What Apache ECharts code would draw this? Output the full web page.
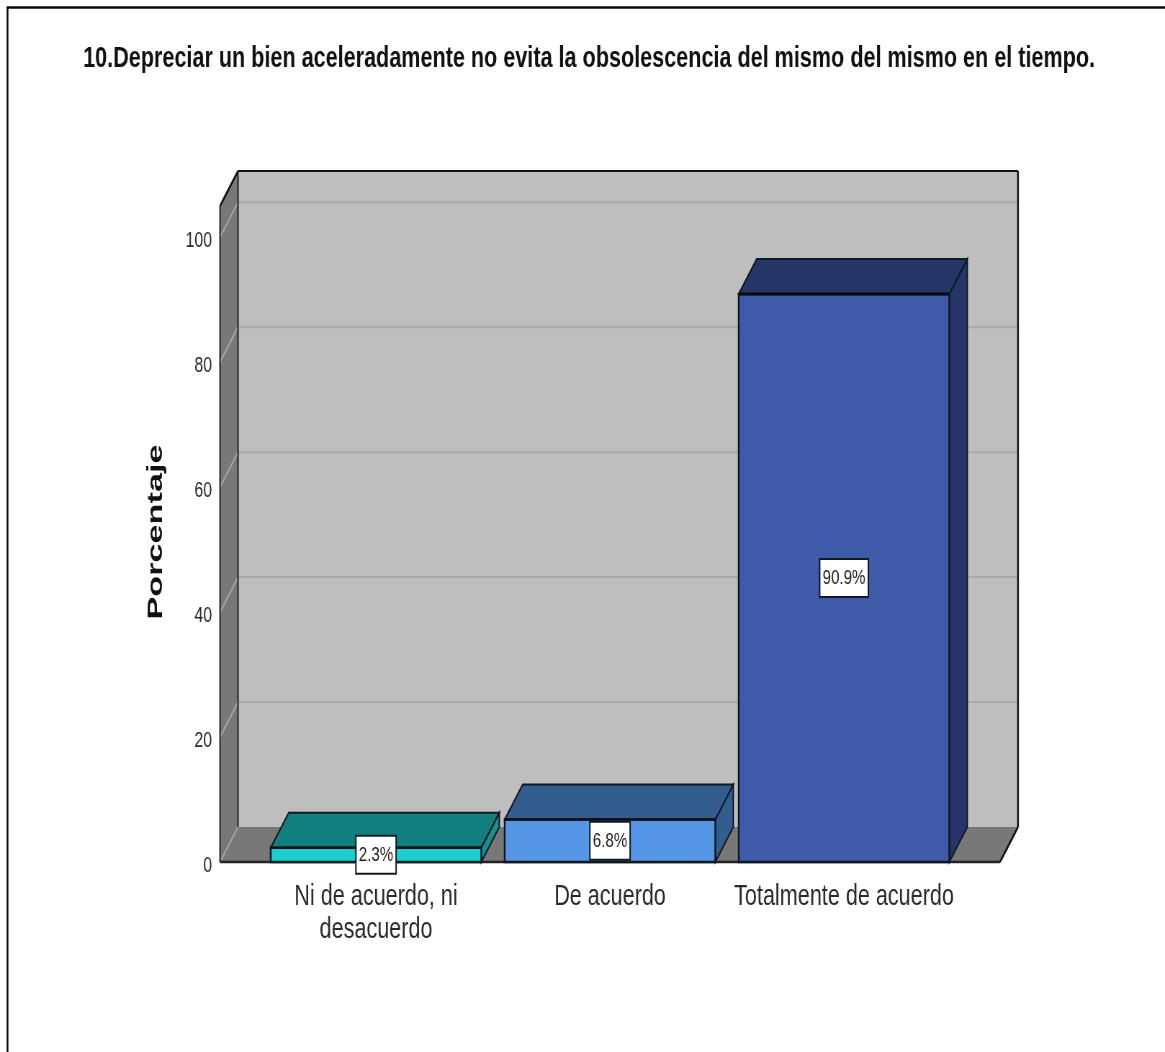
<!DOCTYPE html>
<html>
<head>
<meta charset="utf-8">
<style>
html,body{margin:0;padding:0;background:#fff;overflow:hidden;width:1165px;height:1052px}
/* The plot is laid out wide and squeezed horizontally, which gives the condensed lettering */
#chart{width:1618px;height:1052px;transform:scaleX(0.72);transform-origin:0 0}
</style>
<script src="https://cdn.jsdelivr.net/npm/echarts@6/dist/echarts.min.js"></script>
</head>
<body>
<div id="chart"></div>
<script>
const chartTitle = '10.Depreciar un bien aceleradamente no evita la obsolescencia del mismo del mismo en el tiempo.';
const categories = ['Ni de acuerdo, ni\ndesacuerdo', 'De acuerdo', 'Totalmente de acuerdo'];
const percentages = [2.3, 6.8, 90.9];
const percentLabels = ['2.3%', '6.8%', '90.9%'];
const frontColors = ['#1bcfcf', '#5596e6', '#3e5aa8'];
const topColors = ['#127f7f', '#335c8f', '#263668'];
const sideColors = ['#17908f', '#335c8f', '#263668'];
const gridValues = [20, 40, 60, 80, 100];
const axisMax = 105;

// Horizontal units are wider than screen pixels by this factor
const SQUEEZE = 0.72;
const sx = px => px / SQUEEZE;

// Oblique projection of the 3D box, and how far the walls reach past the bars
const DEPTH_X = sx(18), DEPTH_Y = -35, WALL_PAD = sx(39);
const SANS = '"Liberation Sans", Arial, sans-serif';
const EDGE = '#101820';

const poly = (points, fill, stroke, lineWidth) => ({
  type: 'polygon',
  shape: { points },
  style: { fill, stroke: stroke || null, lineWidth: lineWidth === undefined ? 2 : lineWidth }
});
const seg = (a, b, stroke, lineWidth) => ({
  type: 'line',
  shape: { x1: a[0], y1: a[1], x2: b[0], y2: b[1] },
  style: { stroke, lineWidth }
});

function renderWalls(params, api) {
  const sys = params.coordSys;
  const x0 = sys.x - WALL_PAD, x1 = sys.x + sys.width + WALL_PAD;
  const yBase = api.coord([0, 0])[1], yTop = api.coord([0, axisMax])[1];
  const back = (x, y) => [x + DEPTH_X, y + DEPTH_Y];
  const children = [
    poly([back(x0, yTop), back(x1, yTop), back(x1, yBase), back(x0, yBase)], '#bebebe'),
    poly([[x0, yBase], [x1, yBase], back(x1, yBase), back(x0, yBase)], '#787878'),
    poly([[x0, yTop], back(x0, yTop), back(x0, yBase), [x0, yBase]], '#787878')
  ];
  gridValues.forEach(v => {
    const y = api.coord([0, v])[1];
    children.push(seg(back(x0, y), back(x1, y), '#a9a9a9', 2));
    children.push(seg([x0, y], back(x0, y), '#a6a6a6', 2));
  });
  children.push(seg([x0, yBase], back(x0, yBase), '#a6a6a6', 2));
  // Wall outlines
  children.push(seg(back(x0, yTop), back(x1, yTop), '#111', 2));
  children.push(seg(back(x1, yTop), back(x1, yBase), '#111', 2.5));
  children.push(seg(back(x0, yTop), back(x0, yBase), '#222', 2));
  children.push(seg([x0, yTop], back(x0, yTop), '#111', 2.5));
  children.push(seg([x0, yTop], [x0, yBase], '#222', 2));
  children.push(seg([x0, yBase], [x1, yBase], '#222', 2.5));
  children.push(seg([x1, yBase], back(x1, yBase), '#111', 2.5));
  return { type: 'group', children };
}

function renderBar(params, api) {
  const i = api.value(0), v = api.value(1);
  const width = api.size([1, 0])[0] * 0.9;
  const base = api.coord([i, 0]), head = api.coord([i, v]);
  const l = base[0] - width / 2, r = base[0] + width / 2;
  const yb = base[1], yt = head[1];
  const dx = DEPTH_X, dy = DEPTH_Y;
  return {
    type: 'group',
    children: [
      poly([[r, yb], [r + dx, yb + dy], [r + dx, yt + dy], [r, yt]], sideColors[i], EDGE),
      poly([[l, yt], [r, yt], [r + dx, yt + dy], [l + dx, yt + dy]], topColors[i], EDGE),
      poly([[l, yt], [r, yt], [r, yb], [l, yb]], frontColors[i], EDGE, 2.5),
      seg([l, yt], [r, yt], '#05080f', i === 2 ? 3 : 2),
      {
        type: 'text',
        x: base[0],
        y: (yb + yt) / 2,
        z2: 20,
        style: {
          text: percentLabels[i],
          fontFamily: SANS,
          fontSize: 21,
          fill: '#222',
          align: 'center',
          verticalAlign: 'middle',
          backgroundColor: '#fff',
          borderColor: EDGE,
          borderWidth: 2,
          padding: [8, 3, 7, 3]
        }
      }
    ]
  };
}

const chart = echarts.init(document.getElementById('chart'), null, { renderer: 'canvas', width: 1618, height: 1052 });
chart.setOption({
  animation: false,
  backgroundColor: '#fff',
  title: {
    text: chartTitle,
    left: sx(585.5),
    top: 39,
    textAlign: 'center',
    textStyle: { fontFamily: SANS, fontWeight: 'bold', fontSize: 30, color: '#111' }
  },
  grid: { left: sx(259), width: sx(702), top: 206, height: 656 },
  xAxis: {
    type: 'category',
    data: categories,
    axisLine: { show: false },
    axisTick: { show: false },
    axisLabel: {
      interval: 0,
      margin: 18,
      fontFamily: SANS,
      fontSize: 30,
      lineHeight: 33,
      color: '#2a2a2a'
    }
  },
  yAxis: {
    type: 'value',
    min: 0,
    max: axisMax,
    interval: 20,
    offset: WALL_PAD,
    splitLine: { show: false },
    axisLine: { show: false },
    axisTick: { show: false },
    axisLabel: {
      showMaxLabel: false,
      margin: sx(8),
      verticalAlign: 'top',
      lineHeight: 7,
      fontFamily: SANS,
      fontSize: 22,
      color: '#2a2a2a'
    }
  },
  graphic: [
    {
      type: 'polyline',
      shape: { points: [[sx(7.5), 1052], [sx(7.5), 7.5], [sx(1165), 7.5]] },
      style: { stroke: '#0a0a0a', fill: null, lineWidth: 2.5 }
    },
    {
      type: 'text',
      x: sx(156.5),
      y: 532,
      rotation: Math.PI / 2,
      scaleX: 1.18,
      style: {
        text: 'Porcentaje',
        fontFamily: SANS,
        fontWeight: 'bold',
        fontSize: 29,
        fill: '#111',
        align: 'center',
        verticalAlign: 'middle'
      }
    }
  ],
  series: [
    { type: 'custom', name: 'walls', silent: true, z: 1, renderItem: renderWalls, data: [[0, 0]] },
    {
      type: 'custom',
      name: 'Porcentaje',
      z: 2,
      renderItem: renderBar,
      encode: { x: 0, y: 1 },
      data: percentages.map((v, i) => [i, v])
    }
  ]
});
</script>
</body>
</html>
